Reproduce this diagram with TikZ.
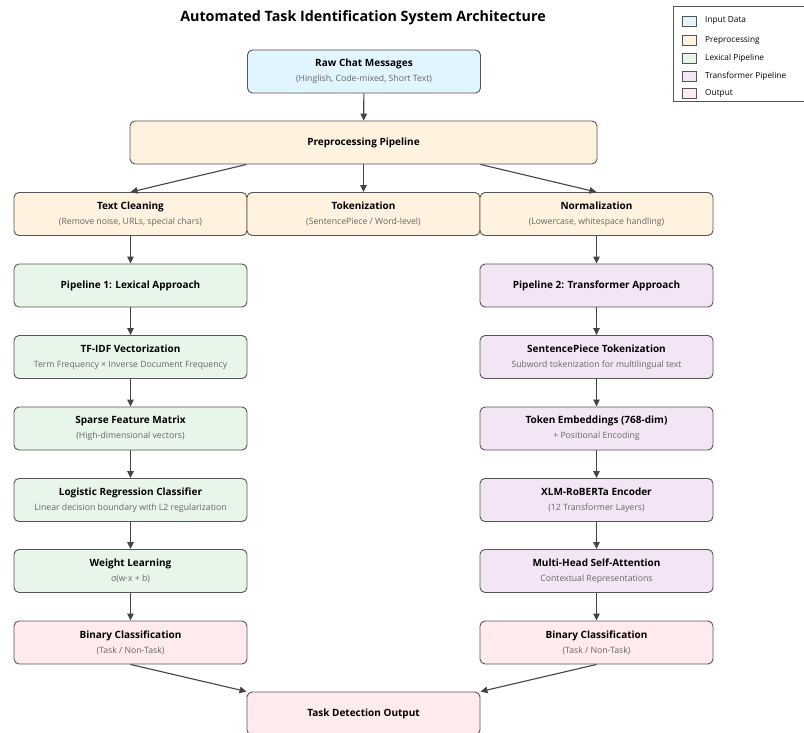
\documentclass[tikz,border=0pt]{standalone}
\usepackage{fontspec}
\setmainfont{Open Sans}
\usetikzlibrary{arrows.meta,calc}
\definecolor{inblue}{HTML}{E1F5FE}
\definecolor{preor}{HTML}{FFF3E0}
\definecolor{lexgr}{HTML}{E8F5E9}
\definecolor{trpu}{HTML}{F3E5F5}
\definecolor{outpk}{HTML}{FFEBEE}
\definecolor{edgec}{HTML}{555555}
\definecolor{subg}{HTML}{666666}
\definecolor{arrc}{HTML}{444444}
\newcommand{\bttl}[1]{{\fontsize{10}{12}\selectfont\bfseries #1}}
\newcommand{\bx}[2]{\bttl{#1}\\[3pt]{\color{subg}\fontsize{8.7}{9.5}\selectfont #2}}
\begin{document}
\begin{tikzpicture}[x=1pt,y=-1pt,
  box/.style={draw=edgec,line width=0.9pt,rounded corners=5pt,minimum width=233pt,minimum height=43pt,align=center,inner sep=2pt},
  inbox/.style={box,fill=inblue},
  prebox/.style={box,fill=preor},
  lexbox/.style={box,fill=lexgr},
  trbox/.style={box,fill=trpu},
  outbox/.style={box,fill=outpk},
  arr/.style={draw=arrc,line width=1.1pt,-{Triangle[length=7pt,width=6.5pt]}},
  swatch/.style={draw=edgec,line width=0.6pt,minimum width=14pt,minimum height=10pt,inner sep=0pt},
  legtxt/.style={anchor=west,font=\fontsize{8.3}{9}\selectfont,inner sep=0pt}]
\useasboundingbox (0,0) rectangle (804,733);
\fill[white] (0,0) rectangle (804,733);

\node[font=\fontsize{14.3}{16}\selectfont\bfseries] (title) at (363,18) {Automated Task Identification System Architecture};

% legend
\node[draw=edgec,line width=0.7pt,minimum width=140pt,minimum height=95pt,anchor=north west,inner sep=0pt] (leg) at (673,6) {};
\node[swatch,fill=inblue] (s1) at (689,21) {};
\node[swatch,fill=preor] (s2) at (689,40) {};
\node[swatch,fill=lexgr] (s3) at (689,58) {};
\node[swatch,fill=trpu] (s4) at (689,76) {};
\node[swatch,fill=outpk] (s5) at (689,93) {};
\node[legtxt] (l1) at (705,21) {Input Data};
\node[legtxt] (l2) at (705,40) {Preprocessing};
\node[legtxt] (l3) at (705,58) {Lexical Pipeline};
\node[legtxt] (l4) at (705,76) {Transformer Pipeline};
\node[legtxt] (l5) at (705,93) {Output};

% nodes
\node[inbox] (raw) at (364,71.5) {\bx{Raw Chat Messages}{(Hinglish, Code-mixed, Short Text)}};
\node[prebox,minimum width=467pt] (prep) at (363.5,142.5) {\bttl{Preprocessing Pipeline}};
\node[prebox] (clean) at (130.5,214) {\bx{Text Cleaning}{(Remove noise, URLs, special chars)}};
\node[prebox] (tok) at (363.5,214) {\bx{Tokenization}{(SentencePiece / Word-level)}};
\node[prebox] (norm) at (596.5,214) {\bx{Normalization}{(Lowercase, whitespace handling)}};

\node[lexbox] (p1) at (130.5,285.5) {\bttl{Pipeline 1: Lexical Approach}};
\node[lexbox] (tfidf) at (130.5,357) {\bx{TF-IDF Vectorization}{Term Frequency × Inverse Document Frequency}};
\node[lexbox] (sparse) at (130.5,428.5) {\bx{Sparse Feature Matrix}{(High-dimensional vectors)}};
\node[lexbox] (logreg) at (130.5,500) {\bx{Logistic Regression Classifier}{Linear decision boundary with L2 regularization}};
\node[lexbox] (wl) at (130.5,571) {\bx{Weight Learning}{σ(w·x + b)}};
\node[outbox] (bin1) at (130.5,642.5) {\bx{Binary Classification}{(Task / Non-Task)}};

\node[trbox] (p2) at (596.5,285.5) {\bttl{Pipeline 2: Transformer Approach}};
\node[trbox] (sp) at (596.5,357) {\bx{SentencePiece Tokenization}{Subword tokenization for multilingual text}};
\node[trbox] (emb) at (596.5,428.5) {\bx{Token Embeddings (768-dim)}{+ Positional Encoding}};
\node[trbox] (xlm) at (596.5,500) {\bx{XLM-RoBERTa Encoder}{(12 Transformer Layers)}};
\node[trbox] (mhsa) at (596.5,571) {\bx{Multi-Head Self-Attention}{Contextual Representations}};
\node[outbox] (bin2) at (596.5,642.5) {\bx{Binary Classification}{(Task / Non-Task)}};

\node[outbox] (out) at (363.5,713.5) {\bttl{Task Detection Output}};

% arrows
\draw[arr] (raw) -- (prep);
\draw[arr] ($(prep.south west)!0.25!(prep.south east)$) -- (clean.north);
\draw[arr] (prep) -- (tok);
\draw[arr] ($(prep.south west)!0.75!(prep.south east)$) -- (norm.north);
\draw[arr] (clean) -- (p1);
\draw[arr] (p1) -- (tfidf);
\draw[arr] (tfidf) -- (sparse);
\draw[arr] (sparse) -- (logreg);
\draw[arr] (logreg) -- (wl);
\draw[arr] (wl) -- (bin1);
\draw[arr] (norm) -- (p2);
\draw[arr] (p2) -- (sp);
\draw[arr] (sp) -- (emb);
\draw[arr] (emb) -- (xlm);
\draw[arr] (xlm) -- (mhsa);
\draw[arr] (mhsa) -- (bin2);
\draw[arr] (bin1.south) -- (out.north west);
\draw[arr] (bin2.south) -- (out.north east);
\end{tikzpicture}
\end{document}
